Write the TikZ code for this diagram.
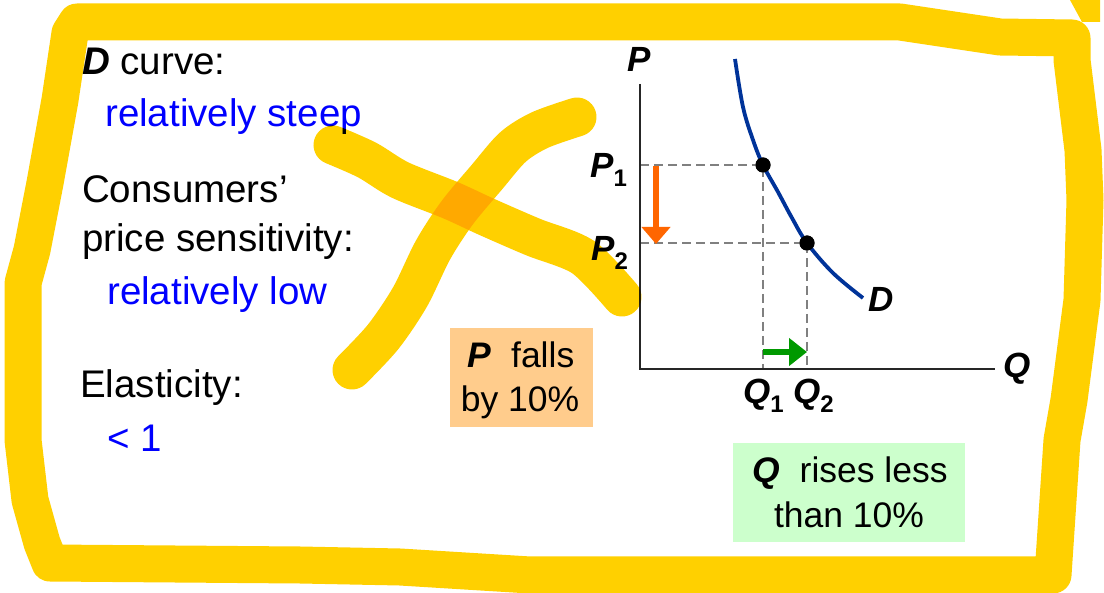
\documentclass[tikz,border=0pt]{standalone}
\usepackage{fontspec}
\setmainfont{Liberation Sans}
\usetikzlibrary{arrows.meta}
\definecolor{hl}{RGB}{255,208,0}
\definecolor{dblue}{RGB}{0,51,153}
\definecolor{orangebox}{RGB}{255,204,140}
\definecolor{greenbox}{RGB}{204,255,204}
\definecolor{arrorange}{RGB}{255,102,0}
\definecolor{arrgreen}{RGB}{0,153,0}
\definecolor{dashgray}{RGB}{128,128,128}
\newcommand\bi[1]{{\bfseries\itshape #1}}
\newcommand\subl[1]{\raisebox{-9pt}{\fontsize{24}{26}\selectfont\bfseries\upshape #1}}
\begin{document}
\begin{tikzpicture}[x=1pt,y=-1pt,
  txt/.style={anchor=base west, inner sep=0pt, font=\fontsize{38.5}{46}\selectfont},
  blu/.style={txt, text=blue},
  lab/.style={anchor=base west, inner sep=0pt, font=\fontsize{35}{40}\selectfont\bfseries\itshape},
  boxtxt/.style={anchor=base, inner sep=0pt, font=\fontsize{35.5}{42}\selectfont},
  hlstroke/.style={draw=hl, line width=39pt, line cap=round, line join=round},
  dashln/.style={draw=dashgray, line width=1.5pt, dash pattern=on 9pt off 5pt},
  dot/.style={circle, fill=black, minimum size=15pt, inner sep=0pt}
]
\useasboundingbox (0,0) rectangle (1104,593);
\fill[white] (0,0) rectangle (1104,593);

% left texts
\node[txt] (t1) at (82,75) {\bi{D} curve:};
\node[blu] (t2) at (105,127) {relatively steep};
\node[txt] (t3) at (82,203) {Consumers’};
\node[txt] (t4) at (82,252) {price sensitivity:};
\node[blu] (t5) at (107,305) {relatively low};
\node[txt] (t6) at (80,398) {Elasticity:};
\node[blu] (t7) at (107,452) {< 1};

% boxes
\node[fill=orangebox, minimum width=143pt, minimum height=99pt, inner sep=0pt] (pbox) at (521.5,377.5) {};
\node[boxtxt] (pb1) at (521,368) {\bi{P}\ \ falls};
\node[boxtxt] (pb2) at (520,412) {by 10\%};
\node[fill=greenbox, minimum width=232pt, minimum height=99pt, inner sep=0pt] (qbox) at (849,492.5) {};
\node[boxtxt] (qb1) at (850,483) {\bi{Q}\ \ rises less};
\node[boxtxt] (qb2) at (849,528) {than 10\%};

% chart coordinates
\coordinate (org) at (640,369);
\coordinate (ytop) at (640,84);
\coordinate (xend) at (995,369);
\coordinate (yp1) at (640,165);
\coordinate (yp2) at (640,243);
\coordinate (xq1) at (763,369);
\coordinate (xq2) at (807,369);

% dashed guides
\node[dot] (e1) at (763,165) {};
\node[dot] (e2) at (807,243) {};
\draw[dashln] (yp1) -- (e1.center) -- (xq1);
\draw[dashln] (yp2) -- (e2.center) -- (xq2);

% axes
\draw[line width=2pt, black!85] (ytop) -- (org) -- (xend);

% demand curve
\draw[dblue, line width=3.8pt] plot[smooth, tension=0.6] coordinates
  {(735,59) (743,107) (753,140) (763,165) (778,192) (792,218) (807,243) (833,273) (863,298)};
\node[dot] at (e1) {};
\node[dot] at (e2) {};

% arrows
\coordinate (oa1) at (656,166);
\coordinate (oa2) at (656,244);
\draw[arrorange, line width=6pt, -{Triangle[width=28pt,length=17pt]}] (oa1) -- (oa2);
\coordinate (ga1) at (763,352);
\coordinate (ga2) at (807,352);
\draw[arrgreen, line width=6pt, -{Triangle[width=27pt,length=18pt]}] (ga1) -- (ga2);

% labels
\node[lab] (lP) at (627,72) {P};
\node[lab] (lP1) at (590,178) {P\subl{1}};
\node[lab] (lP2) at (591,261) {P\subl{2}};
\node[lab] (lD) at (868,312) {D};
\node[lab] (lQ) at (1003,378) {Q};
\node[lab] (lQ1) at (743,404) {Q\subl{1}};
\node[lab] (lQ2) at (793,404) {Q\subl{2}};

% yellow highlighter strokes
\begin{scope}[blend mode=multiply]
\draw[hlstroke, line width=37pt] (1072,38) -- (1000,37) -- (900,22) -- (77,22) -- (70,33) -- (60,100) -- (45,183) -- (32,250) -- (23,283) -- (23,440) -- (30,500) -- (42,543) -- (50,563) -- (300,565) -- (400,567) -- (530,575) -- (1053,575) -- (1058,500) -- (1062,440) -- (1069,400) -- (1082,300) -- (1085,200) -- (1083,150) -- (1072,60) -- cycle;
\fill[hl] (1070,0) -- (1100,0) -- (1100,22) -- (1082,22) -- cycle;
\draw[hlstroke] plot[smooth] coordinates {(333,145) (367,160) (400,180) (450,200) (487,217) (533,237) (583,257) (622,297)};
\draw[hlstroke] plot[smooth] coordinates {(352,370) (383,337) (410,297) (433,250) (457,213) (487,177) (513,147) (540,130) (577,117)};
\end{scope}
\end{tikzpicture}
\end{document}
